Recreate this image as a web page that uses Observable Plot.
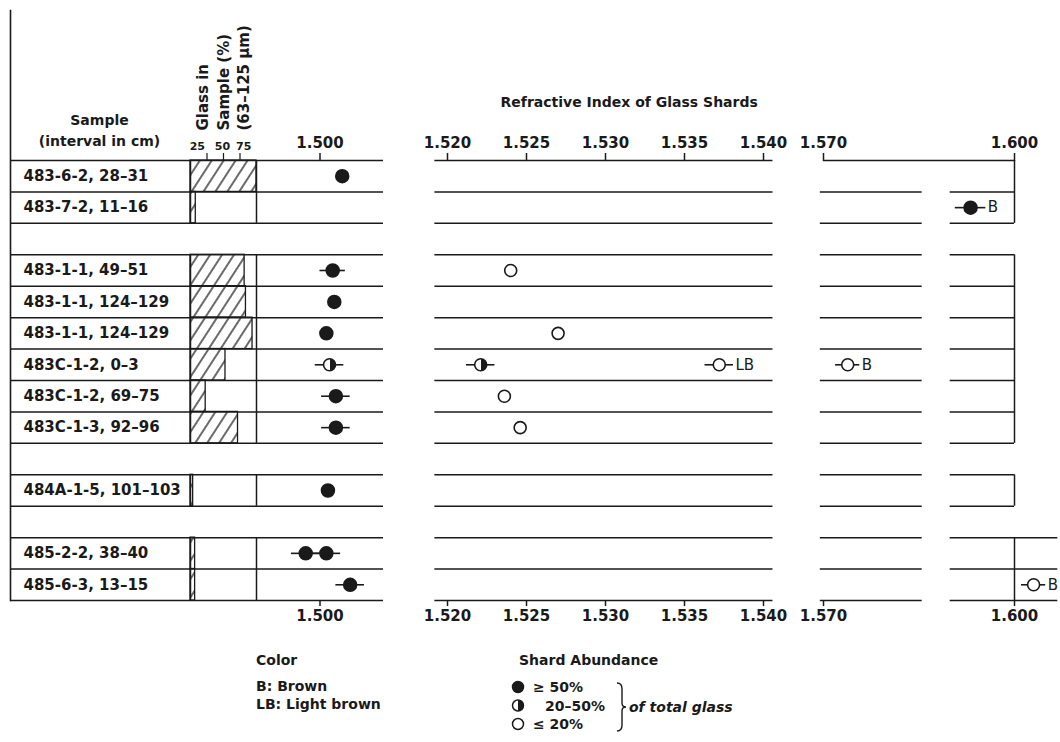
<!DOCTYPE html>
<html><head><meta charset="utf-8">
<script src="https://cdn.jsdelivr.net/npm/d3@7"></script>
<script src="https://cdn.jsdelivr.net/npm/@observablehq/plot@0.6"></script>
<style>
body{margin:0;background:#fff;font-family:"DejaVu Sans",sans-serif;}
#chart{position:relative;width:1060px;height:630px;}
#legend{position:relative;width:1060px;height:112px;}
</style></head><body>
<svg width="0" height="0" style="position:absolute">
<defs>
<pattern id="hatch" patternUnits="userSpaceOnUse" width="10" height="10" patternTransform="rotate(33)">
<rect width="10" height="10" fill="#fff"/>
<line x1="5" y1="-1" x2="5" y2="11" stroke="#1a1a1a" stroke-width="1.3"/>
</pattern>
<linearGradient id="half" x1="0" y1="0" x2="1" y2="0">
<stop offset="0.5" stop-color="#fff"/><stop offset="0.5" stop-color="#1a1a1a"/>
</linearGradient>
</defs></svg>
<div id="chart"></div>
<div id="legend"></div>
<script>
// ---------------- data ----------------
const samples = ["483-6-2, 28–31", "483-7-2, 11–16", null,
  "483-1-1, 49–51", "483-1-1, 124–129", "483-1-1, 124–129", "483C-1-2, 0–3", "483C-1-2, 69–75", "483C-1-3, 92–96", null,
  "484A-1-5, 101–103", null,
  "485-2-2, 38–40", "485-6-3, 13–15"];
const glassPercent = [100, 8, null, 82, 84, 94, 53, 23, 72, null, 4, null, 7, 7];
const glassTicks = [25, 50, 75];

const pointRow       = [0, 1, 3, 3, 4, 5, 5, 6, 6, 6, 6, 7, 7, 8, 8, 10, 12, 12, 13, 13];
const pointIndex     = [1.5014, 1.5931, 1.5008, 1.5240, 1.5009, 1.5004, 1.5270, 1.5006, 1.5221, 1.5372, 1.5738, 1.5010, 1.5236, 1.5010, 1.5246, 1.5005, 1.4991, 1.5004, 1.5019, 1.6030];
const pointError     = [0, 0.0024, 0.0008, 0, 0, 0, 0, 0.0009, 0.0009, 0.0009, 0.0019, 0.0009, 0, 0.0009, 0, 0, 0.0009, 0.0009, 0.0009, 0.0019];
const pointAbundance = ["high", "high", "high", "low", "high", "high", "low", "mid", "mid", "low", "low", "high", "low", "high", "low", "high", "high", "high", "high", "low"];
const pointColor     = ["", "B", "", "", "", "", "", "", "", "LB", "B", "", "", "", "", "", "", "", "", "B"];

const ticksLow  = [1.500];
const ticksMid  = [1.520, 1.525, 1.530, 1.535, 1.540];
const ticksHigh = [1.570, 1.600];

const legendColors = [["B", "Brown"], ["LB", "Light brown"]];
const legendAbundance = [["high", "≥ 50%"], ["mid", "20–50%"], ["low", "≤ 20%"]];

// ---------------- layout ----------------
const W = 1060, H = 630, ROW_TOP = 160, ROW_BOTTOM = 600;
const INK = "#1a1a1a";
const FONT = "DejaVu Sans";
const nSlots = samples.length;
const ySc = {domain: [0, nSlots], range: [ROW_TOP, ROW_BOTTOM], axis: null};
const STYLE = `background: transparent; overflow: visible; font-family: '${FONT}';`;

const rows = samples.map((s, i) => ({s, i, g: glassPercent[i]})).filter(d => d.s != null);
const boundaries = d3.range(nSlots + 1);
const groups = [];
samples.forEach((s, i) => {
  if (s == null) return;
  const g = groups[groups.length - 1];
  if (g && g.end === i) g.end = i + 1; else groups.push({start: i, end: i + 1});
});
const points = pointRow.map((row, k) => ({row, ri: pointIndex[k], err: pointError[k], ab: pointAbundance[k], color: pointColor[k]}));
const yMid = d => d.row + 0.5;

const chart = document.getElementById("chart");
function place(svg) {
  svg.style.position = "absolute"; svg.style.left = "0px"; svg.style.top = "0px";
  chart.appendChild(svg);
}

// glass tick labels are crowded in the original: first right-aligned, last left-aligned
const tickLabel = (t, anchor, dx) => Plot.text([t], {x: d => d, y: 0, dx, dy: -11, text: d => String(d), textAnchor: anchor, lineAnchor: "bottom", fontSize: 11, fontWeight: "bold", fill: INK});

// ---------- sample labels + glass column ----------
place(Plot.plot({
  width: W, height: H, marginTop: 10, marginBottom: H - ROW_BOTTOM, marginLeft: 10, marginRight: W - 383,
  x: {domain: [0, 100], range: [190, 256], axis: null},
  y: ySc,
  style: STYLE,
  marks: [
    Plot.rect(rows.filter(d => d.g > 0), {x1: 0, x2: "g", y1: "i", y2: d => d.i + 1, fill: "url(#hatch)", stroke: INK, strokeWidth: 1.3}),
    Plot.frame({anchor: "left", stroke: INK, strokeWidth: 1.6}),
    Plot.ruleY(boundaries, {stroke: INK, strokeWidth: 1.5}),
    Plot.ruleX([0, 100], {y2: groups[0].end, stroke: INK, strokeWidth: 1.5}),
    Plot.ruleX(groups.slice(1).flatMap(g => [{x: 0, ...g}, {x: 100, ...g}]), {x: "x", y1: "start", y2: "end", stroke: INK, strokeWidth: 1.5}),
    Plot.ruleX(glassTicks, {x: d => d, y1: 0, y2: 0, insetTop: -7, stroke: INK, strokeWidth: 1.2}),
    tickLabel(glassTicks[0], "end", -2),
    tickLabel(glassTicks[1], "middle", -1),
    tickLabel(glassTicks[2], "start", -4),
    Plot.text(rows, {y: d => d.i + 0.5, text: "s", frameAnchor: "left", dx: 13, textAnchor: "start", fontSize: 15, fontWeight: "bold", fill: INK}),
    Plot.text(["Sample\n(interval in cm)"], {y: 0, text: d => d, frameAnchor: "left", dx: 89, dy: -15, textAnchor: "middle", lineAnchor: "bottom", lineHeight: 1.5, fontSize: 14, fontWeight: "bold", fill: INK}),
    Plot.text(["Glass in\nSample (%)\n(63–125 μm)"], {x: 48, y: 0, text: d => d, dy: -30, rotate: -90, textAnchor: "start", lineAnchor: "middle", lineHeight: 1.35, fontSize: 15, fontWeight: "bold", fill: INK})
  ]
}));

// ---------- refractive index panels ----------
function panel({domain, range, ticks, min, max, extra = []}) {
  const pts = points.filter(d => d.ri >= min && d.ri < max);
  return Plot.plot({
    width: W, height: H, marginTop: ROW_TOP, marginBottom: H - ROW_BOTTOM, marginLeft: range[0], marginRight: W - range[1],
    x: {domain, range},
    y: ySc,
    style: STYLE,
    marks: [
      ...extra,
      Plot.ruleY(pts.filter(d => d.err > 0), {y: yMid, x1: d => d.ri - d.err, x2: d => d.ri + d.err, stroke: INK, strokeWidth: 1.6}),
      Plot.dot(pts.filter(d => d.ab === "high"), {x: "ri", y: yMid, r: 6.5, fill: INK, stroke: INK}),
      Plot.dot(pts.filter(d => d.ab === "mid"), {x: "ri", y: yMid, r: 6, fill: "url(#half)", stroke: INK, strokeWidth: 1.6}),
      Plot.dot(pts.filter(d => d.ab === "low"), {x: "ri", y: yMid, r: 6, fill: "white", stroke: INK, strokeWidth: 1.6}),
      Plot.text(pts.filter(d => d.color), {x: d => d.ri + d.err, y: yMid, text: "color", dx: 2, textAnchor: "start", fontSize: 15, fill: INK}),
      Plot.axisX({anchor: "top", ticks, tickFormat: ".3f", tickSize: 8, tickPadding: 5, fontSize: 15, fontWeight: "bold", label: null, stroke: INK, strokeWidth: 1.5, fill: INK}),
      Plot.axisX({anchor: "bottom", ticks, tickFormat: ".3f", tickSize: 6, tickPadding: 4, fontSize: 15, fontWeight: "bold", label: null, stroke: INK, strokeWidth: 1.5, fill: INK})
    ]
  });
}

place(panel({domain: [1.496, 1.504], range: [256, 383], ticks: ticksLow, min: 1.49, max: 1.51}));

place(panel({domain: [1.520, 1.540], range: [447, 763], ticks: ticksMid, min: 1.51, max: 1.55, extra: [
  Plot.ruleY(boundaries, {x1: 1.5192, x2: 1.5406, stroke: INK, strokeWidth: 1.5}),
  Plot.text(["Refractive Index of Glass Shards"], {x: 1.5315, y: 0, text: d => d, dy: -54, lineAnchor: "bottom", fontSize: 14, fontWeight: "bold", fill: INK})
]}));

const lastGroup = groups[groups.length - 1];
place(panel({domain: [1.570, 1.600], range: [823, 1014], ticks: ticksHigh, min: 1.55, max: 1.62, extra: [
  Plot.ruleY([0], {x1: 1.570, x2: 1.600, stroke: INK, strokeWidth: 1.5}),
  Plot.ruleY(boundaries.slice(1), {x1: 1.5695, x2: 1.5855, stroke: INK, strokeWidth: 1.5}),
  Plot.ruleY(boundaries.slice(1).map(b => ({b, wide: b >= lastGroup.start})), {y: "b", x1: 1.5899, x2: d => d.wide ? 1.6068 : 1.600, stroke: INK, strokeWidth: 1.5}),
  Plot.ruleX(groups, {x: 1.600, y1: "start", y2: "end", stroke: INK, strokeWidth: 1.5})
]}));

// ---------------- legend ----------------
const leg = d3.select("#legend").append("svg").attr("width", W).attr("height", 112)
  .style("font-family", FONT).style("font-weight", "bold").style("font-size", "14px").attr("fill", INK);
leg.append("text").attr("x", 256).attr("y", 35).text("Color");
legendColors.forEach(([k, v], i) => leg.append("text").attr("x", 256).attr("y", 61 + i * 18).text(`${k}: ${v}`));
leg.append("text").attr("x", 519).attr("y", 35).text("Shard Abundance");
const symFill = {high: INK, mid: "url(#half)", low: "#fff"};
legendAbundance.forEach(([k, v], i) => {
  const cy = 57 + i * 18.5;
  leg.append("circle").attr("cx", 518).attr("cy", cy).attr("r", 5.5).attr("fill", symFill[k]).attr("stroke", INK).attr("stroke-width", 1.5);
  leg.append("text").attr("x", k === "mid" ? 545 : 533).attr("y", cy + 5).text(v);
});
leg.append("path").attr("d", "M617,53 q5,0 5,6 v14 q0,4 4,4 q-4,0 -4,4 v14 q0,6 -5,6")
  .attr("fill", "none").attr("stroke", INK).attr("stroke-width", 1.4);
leg.append("text").attr("x", 629).attr("y", 82).style("font-style", "italic").text("of total glass");
</script>
</body></html>
